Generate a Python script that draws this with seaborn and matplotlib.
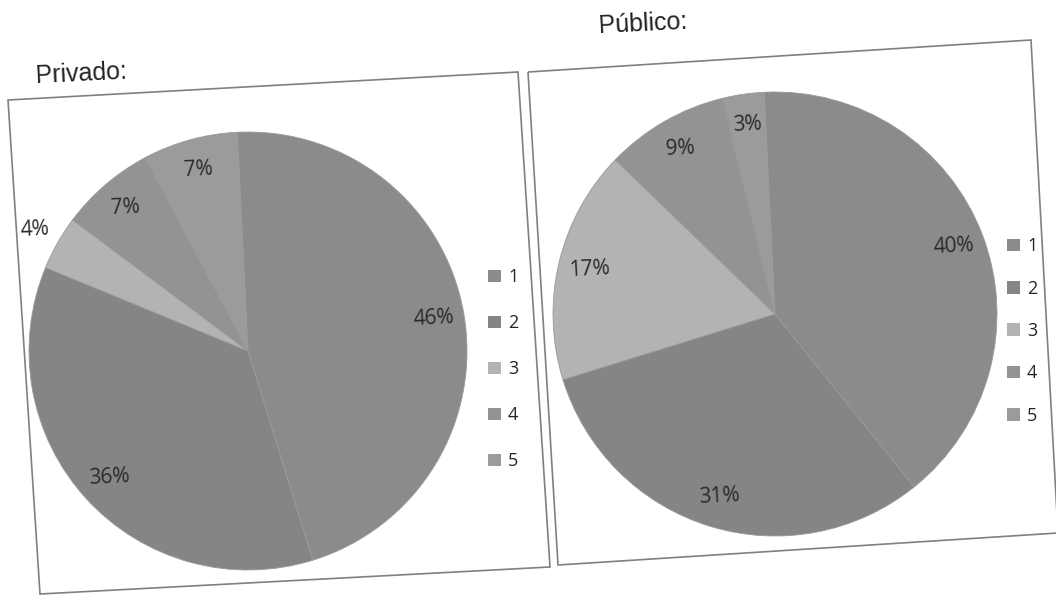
import numpy as np
import matplotlib
matplotlib.use("Agg")
import matplotlib.pyplot as plt
from matplotlib.patches import Polygon, Patch
import seaborn as sns

# data
categories = ["1", "2", "3", "4", "5"]
privado = [46, 36, 4, 7, 7]
publico = [40, 31, 17, 9, 3]
titles = ["Privado:", "Público:"]

sns.set_style("white")
plt.rcParams["font.family"] = ["Liberation Sans", "DejaVu Sans"]
label_font = ["Open Sans", "DejaVu Sans"]

grays = ["#8b8b8b", "#858585", "#b3b3b3", "#939393", "#9b9b9b"]
tilt = 2.8  # the scan is slightly rotated

fig = plt.figure(figsize=(10.56, 5.95), dpi=100)
W, H = 1056, 595


def fx(x, y):
    return (x / W, 1 - y / H)


def px(cx, cy, r):
    # square axes around a pixel centre
    return [(cx - r) / W, 1 - (cy + r) / H, 2 * r / W, 2 * r / H]


# outer frames (tilted like the scan)
frames = [
    [(8, 100), (518, 72), (550, 567), (40, 594)],
    [(528, 72), (1031, 40), (1058, 533), (558, 565)],
]
for pts in frames:
    fig.patches.append(Polygon([fx(*p) for p in pts], closed=True,
                               transform=fig.transFigure, fill=False,
                               edgecolor="#808080", lw=1.2))

fig.text(35 / W, 1 - 74 / H, titles[0], fontsize=18, va="center",
         ha="left", rotation=tilt, color="#222222")
fig.text(598 / W, 1 - 24 / H, titles[1], fontsize=18, va="center",
         ha="left", rotation=tilt, color="#222222")


def draw_pie(rect, values, outside_idx=None):
    ax = fig.add_axes(rect)
    wedges, texts, autotexts = ax.pie(
        values, colors=grays, startangle=90 + tilt, counterclock=False,
        autopct=lambda p: f"{p:.0f}%", pctdistance=0.86,
        wedgeprops=dict(linewidth=0.6, edgecolor="#9a9a9a"),
        textprops=dict(fontsize=15, color="#2a2a2a", family=label_font))
    for t in autotexts:
        t.set_rotation(tilt)
    if outside_idx is not None:
        w = wedges[outside_idx]
        ang = np.deg2rad((w.theta1 + w.theta2) / 2)
        autotexts[outside_idx].set_position((1.12 * np.cos(ang), 1.12 * np.sin(ang)))
    ax.set_xlim(-1.0, 1.0)
    ax.set_ylim(-1.0, 1.0)
    ax.set_aspect("equal")
    ax.axis("off")
    return ax


draw_pie(px(248, 351, 219), privado, outside_idx=2)
draw_pie(px(775, 314, 222), publico)

handles = [Patch(facecolor=c, edgecolor="none") for c in grays]
for (x0, y0, sp) in [(472, 252, 1.55), (991, 221, 1.35)]:
    fig.legend(handles, categories, loc="upper left",
               bbox_to_anchor=(x0 / W, 1 - y0 / H), frameon=False,
               handlelength=0.7, handleheight=0.7,
               labelspacing=sp, handletextpad=0.4,
               prop=dict(family=label_font, size=13))

fig.savefig("out.png", dpi=100, facecolor="white")
